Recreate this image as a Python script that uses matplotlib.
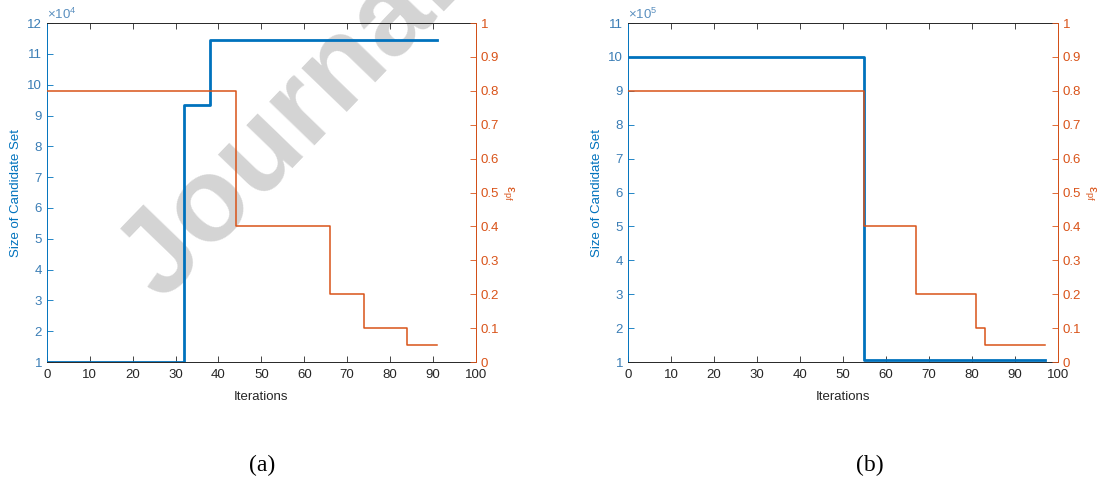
import matplotlib.pyplot as plt
from matplotlib.ticker import FuncFormatter

plt.rcParams['font.family'] = ['Liberation Sans', 'DejaVu Sans']
plt.rcParams['mathtext.default'] = 'regular'

# panel (a) data
iter_a_size = [0, 32, 38, 91]
size_a = [1.0e4, 9.35e4, 11.45e4, 11.45e4]
iter_a_eps = [0, 44, 66, 74, 84, 91]
eps_a = [0.8, 0.4, 0.2, 0.1, 0.05, 0.05]

# panel (b) data
iter_b_size = [0, 55, 97]
size_b = [10.0e5, 1.07e5, 1.07e5]
iter_b_eps = [0, 55, 67, 81, 83, 97]
eps_b = [0.8, 0.4, 0.2, 0.1, 0.05, 0.05]

blue = '#0072BD'
orange = '#D95319'
dark = '#262626'
fs = 9.5

fig = plt.figure(figsize=(11.08, 4.86), dpi=100)


def make_panel(rect, xs, ys, xe, ye, scale, ymax, caption, cap_x):
    ax = fig.add_axes(rect)
    ax.set_facecolor('none')
    ax.step(xs, ys, where='post', color=blue, lw=2.0, zorder=3)
    ax.set_xlim(0, 100)
    ax.set_ylim(1 * scale, ymax * scale)
    ax.set_xticks(range(0, 101, 10))
    ax.set_yticks([v * scale for v in range(1, ymax + 1)])
    ax.yaxis.set_major_formatter(FuncFormatter(lambda v, p: '%d' % round(v / scale)))
    ax.tick_params(axis='x', direction='in', length=4, colors=dark, labelsize=fs, top=True,
                   width=0.6, pad=5)
    ax.tick_params(axis='y', direction='in', length=4, colors=blue, labelsize=fs, width=0.6)
    for lab in ax.get_yticklabels():
        lab.set_color('#3a7db5')
    ax.spines['left'].set_color(blue)
    ax.spines['top'].set_color(dark)
    ax.spines['bottom'].set_color(dark)
    for s in ax.spines.values():
        s.set_linewidth(0.7)
    ax.set_xlabel('Iterations', fontsize=fs, color=dark, labelpad=7)
    ax.set_ylabel('Size of Candidate Set', fontsize=fs, color=blue, labelpad=4)
    exp = 4 if scale == 1e4 else 5
    ax.text(0.0, 1.004, r'$\times 10^{%d}$' % exp, transform=ax.transAxes,
            fontsize=9.5, color='#5a8fbf', va='bottom', ha='left')

    ax2 = ax.twinx()
    ax2.step(xe, ye, where='post', color=orange, lw=1.1, zorder=2)
    ax2.set_ylim(0, 1)
    ax2.set_yticks([i / 10 for i in range(11)])
    ax2.yaxis.set_major_formatter(FuncFormatter(lambda v, p: '0' if v == 0 else ('1' if v == 1 else '%g' % round(v, 1))))
    ax2.tick_params(axis='y', direction='in', length=4, colors=orange, labelsize=fs, width=0.6)
    ax2.spines['right'].set_color(orange)
    ax2.spines['left'].set_visible(False)
    ax2.spines['top'].set_visible(False)
    ax2.spines['bottom'].set_visible(False)
    ax2.spines['right'].set_linewidth(0.7)
    ax2.set_ylabel(r'$\epsilon_{pf}$', fontsize=9.5, color=orange, rotation=-90, labelpad=12)

    fig.text(cap_x, 0.042, caption, fontsize=17, family=['Liberation Serif', 'DejaVu Serif'],
             ha='center', va='center', color='black')
    return ax


make_panel([0.0424, 0.255, 0.387, 0.6975], iter_a_size, size_a, iter_a_eps, eps_a,
           1e4, 12, '(a)', 0.237)
make_panel([0.5668, 0.255, 0.388, 0.6975], iter_b_size, size_b, iter_b_eps, eps_b,
           1e5, 11, '(b)', 0.785)

# watermark
fig.text(0.146, 0.377, 'Journal', fontsize=86, fontweight='bold', color='#d4d4d4',
         rotation=46, rotation_mode='anchor', ha='left', va='baseline', zorder=-1)

fig.savefig('out.png', dpi=100)
